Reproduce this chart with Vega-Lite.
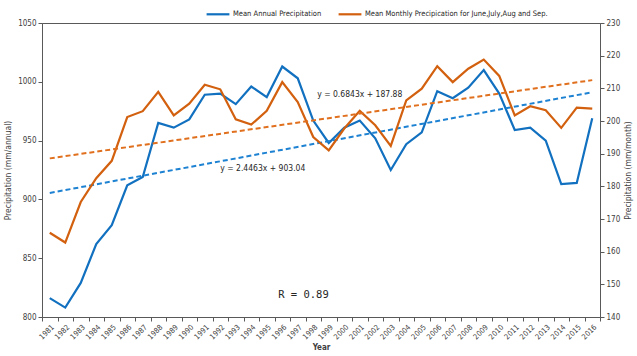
{
  "$schema": "https://vega.github.io/schema/vega-lite/v6.json",
  "autosize": "none",
  "width": 558,
  "height": 294,
  "padding": {"left": 42, "top": 23, "right": 37, "bottom": 39},
  "background": "white",
  "config": {
    "font": "DejaVu Sans Condensed",
    "view": {"stroke": "#595959", "strokeWidth": 1},
    "axis": {"labelFont": "DejaVu Sans Condensed", "titleFont": "DejaVu Sans Condensed", "labelColor": "#404040", "titleColor": "#404040", "domainColor": "#595959", "tickColor": "#595959", "labelFontSize": 8, "titleFontSize": 8.5, "titleFontWeight": "normal", "grid": false, "tickSize": 4, "labelPadding": 2, "labelOverlap": false}
  },
  "datasets": {
    "series": [
      {"year": 1981, "series": "Mean Annual Precipitation", "value": 816},
      {"year": 1982, "series": "Mean Annual Precipitation", "value": 808},
      {"year": 1983, "series": "Mean Annual Precipitation", "value": 829},
      {"year": 1984, "series": "Mean Annual Precipitation", "value": 862},
      {"year": 1985, "series": "Mean Annual Precipitation", "value": 878},
      {"year": 1986, "series": "Mean Annual Precipitation", "value": 912},
      {"year": 1987, "series": "Mean Annual Precipitation", "value": 919},
      {"year": 1988, "series": "Mean Annual Precipitation", "value": 965},
      {"year": 1989, "series": "Mean Annual Precipitation", "value": 961},
      {"year": 1990, "series": "Mean Annual Precipitation", "value": 968},
      {"year": 1991, "series": "Mean Annual Precipitation", "value": 989},
      {"year": 1992, "series": "Mean Annual Precipitation", "value": 990},
      {"year": 1993, "series": "Mean Annual Precipitation", "value": 981},
      {"year": 1994, "series": "Mean Annual Precipitation", "value": 996},
      {"year": 1995, "series": "Mean Annual Precipitation", "value": 987},
      {"year": 1996, "series": "Mean Annual Precipitation", "value": 1013},
      {"year": 1997, "series": "Mean Annual Precipitation", "value": 1003},
      {"year": 1998, "series": "Mean Annual Precipitation", "value": 967},
      {"year": 1999, "series": "Mean Annual Precipitation", "value": 948},
      {"year": 2000, "series": "Mean Annual Precipitation", "value": 961},
      {"year": 2001, "series": "Mean Annual Precipitation", "value": 967},
      {"year": 2002, "series": "Mean Annual Precipitation", "value": 952},
      {"year": 2003, "series": "Mean Annual Precipitation", "value": 925},
      {"year": 2004, "series": "Mean Annual Precipitation", "value": 947},
      {"year": 2005, "series": "Mean Annual Precipitation", "value": 957},
      {"year": 2006, "series": "Mean Annual Precipitation", "value": 992},
      {"year": 2007, "series": "Mean Annual Precipitation", "value": 986},
      {"year": 2008, "series": "Mean Annual Precipitation", "value": 995},
      {"year": 2009, "series": "Mean Annual Precipitation", "value": 1010},
      {"year": 2010, "series": "Mean Annual Precipitation", "value": 990},
      {"year": 2011, "series": "Mean Annual Precipitation", "value": 959},
      {"year": 2012, "series": "Mean Annual Precipitation", "value": 961},
      {"year": 2013, "series": "Mean Annual Precipitation", "value": 950},
      {"year": 2014, "series": "Mean Annual Precipitation", "value": 913},
      {"year": 2015, "series": "Mean Annual Precipitation", "value": 914},
      {"year": 2016, "series": "Mean Annual Precipitation", "value": 969},
      {"year": 1981, "series": "Mean Monthly Precipication for June,July,Aug and Sep.", "value": 165.8},
      {"year": 1982, "series": "Mean Monthly Precipication for June,July,Aug and Sep.", "value": 162.8},
      {"year": 1983, "series": "Mean Monthly Precipication for June,July,Aug and Sep.", "value": 175.2},
      {"year": 1984, "series": "Mean Monthly Precipication for June,July,Aug and Sep.", "value": 182.5},
      {"year": 1985, "series": "Mean Monthly Precipication for June,July,Aug and Sep.", "value": 187.8},
      {"year": 1986, "series": "Mean Monthly Precipication for June,July,Aug and Sep.", "value": 201.2},
      {"year": 1987, "series": "Mean Monthly Precipication for June,July,Aug and Sep.", "value": 203.0},
      {"year": 1988, "series": "Mean Monthly Precipication for June,July,Aug and Sep.", "value": 208.9},
      {"year": 1989, "series": "Mean Monthly Precipication for June,July,Aug and Sep.", "value": 201.7},
      {"year": 1990, "series": "Mean Monthly Precipication for June,July,Aug and Sep.", "value": 205.3},
      {"year": 1991, "series": "Mean Monthly Precipication for June,July,Aug and Sep.", "value": 211.1},
      {"year": 1992, "series": "Mean Monthly Precipication for June,July,Aug and Sep.", "value": 209.7},
      {"year": 1993, "series": "Mean Monthly Precipication for June,July,Aug and Sep.", "value": 200.5},
      {"year": 1994, "series": "Mean Monthly Precipication for June,July,Aug and Sep.", "value": 198.9},
      {"year": 1995, "series": "Mean Monthly Precipication for June,July,Aug and Sep.", "value": 203.1},
      {"year": 1996, "series": "Mean Monthly Precipication for June,July,Aug and Sep.", "value": 211.9},
      {"year": 1997, "series": "Mean Monthly Precipication for June,July,Aug and Sep.", "value": 205.8},
      {"year": 1998, "series": "Mean Monthly Precipication for June,July,Aug and Sep.", "value": 195.1},
      {"year": 1999, "series": "Mean Monthly Precipication for June,July,Aug and Sep.", "value": 191.0},
      {"year": 2000, "series": "Mean Monthly Precipication for June,July,Aug and Sep.", "value": 197.7},
      {"year": 2001, "series": "Mean Monthly Precipication for June,July,Aug and Sep.", "value": 203.1},
      {"year": 2002, "series": "Mean Monthly Precipication for June,July,Aug and Sep.", "value": 198.7},
      {"year": 2003, "series": "Mean Monthly Precipication for June,July,Aug and Sep.", "value": 192.4},
      {"year": 2004, "series": "Mean Monthly Precipication for June,July,Aug and Sep.", "value": 206.3},
      {"year": 2005, "series": "Mean Monthly Precipication for June,July,Aug and Sep.", "value": 209.9},
      {"year": 2006, "series": "Mean Monthly Precipication for June,July,Aug and Sep.", "value": 216.8},
      {"year": 2007, "series": "Mean Monthly Precipication for June,July,Aug and Sep.", "value": 211.9},
      {"year": 2008, "series": "Mean Monthly Precipication for June,July,Aug and Sep.", "value": 216.0},
      {"year": 2009, "series": "Mean Monthly Precipication for June,July,Aug and Sep.", "value": 218.8},
      {"year": 2010, "series": "Mean Monthly Precipication for June,July,Aug and Sep.", "value": 213.8},
      {"year": 2011, "series": "Mean Monthly Precipication for June,July,Aug and Sep.", "value": 201.7},
      {"year": 2012, "series": "Mean Monthly Precipication for June,July,Aug and Sep.", "value": 204.5},
      {"year": 2013, "series": "Mean Monthly Precipication for June,July,Aug and Sep.", "value": 203.3},
      {"year": 2014, "series": "Mean Monthly Precipication for June,July,Aug and Sep.", "value": 197.9},
      {"year": 2015, "series": "Mean Monthly Precipication for June,July,Aug and Sep.", "value": 204.1},
      {"year": 2016, "series": "Mean Monthly Precipication for June,July,Aug and Sep.", "value": 203.8}
    ],
    "trend": [
      {"year": 1981, "series": "annual", "value": 905.49},
      {"year": 2016, "series": "annual", "value": 991.11},
      {"year": 1981, "series": "monthly", "value": 188.56},
      {"year": 2016, "series": "monthly", "value": 212.51}
    ],
    "notes": [
      {"year": 2001, "value": 990, "label": "y = 0.6843x + 187.88", "kind": "eq1"},
      {"year": 1992, "value": 927, "label": "y = 2.4463x + 903.04", "kind": "eq2"},
      {"year": 1999, "value": 819, "label": "R = 0.89", "kind": "r"}
    ]
  },
  "encoding": {
    "x": {
      "field": "year", "type": "ordinal",
      "scale": {"type": "band", "paddingInner": 0, "paddingOuter": 0,
        "domain": [1981,1982,1983,1984,1985,1986,1987,1988,1989,1990,1991,1992,1993,1994,1995,1996,1997,1998,1999,2000,2001,2002,2003,2004,2005,2006,2007,2008,2009,2010,2011,2012,2013,2014,2015,2016]},
      "axis": {"title": "Year", "labelAngle": -45, "labelFontSize": 7.5, "tickBand": "extent", "titlePadding": 3, "titleFontWeight": "bold", "titleFontSize": 8}
    }
  },
  "layer": [
    {
      "layer": [
        {
          "data": {"name": "series"},
          "transform": [{"filter": "datum.series === 'Mean Annual Precipitation'"}],
          "mark": {"type": "line", "strokeWidth": 2.2},
          "encoding": {
            "y": {"field": "value", "type": "quantitative", "scale": {"domain": [800, 1050], "nice": false, "zero": false},
              "axis": {"title": "Precipitation (mm/annual)", "values": [800, 850, 900, 950, 1000, 1050], "format": "d", "titlePadding": 5}},
            "color": {"field": "series", "type": "nominal",
              "scale": {"domain": ["Mean Annual Precipitation", "Mean Monthly Precipication for June,July,Aug and Sep."], "range": ["#1170BF", "#D2600E"]},
              "legend": {"orient": "none", "legendX": 163, "legendY": -22, "direction": "horizontal", "title": null, "symbolType": "stroke", "symbolSize": 520, "symbolStrokeWidth": 2.2, "labelFontSize": 7.5, "labelColor": "#262626", "labelFont": "DejaVu Sans Condensed", "labelLimit": 400, "columnPadding": 12, "labelOffset": 2}}
          }
        },
        {
          "data": {"name": "trend"},
          "transform": [{"filter": "datum.series === 'annual'"}],
          "mark": {"type": "line", "strokeWidth": 2, "strokeDash": [5, 3], "color": "#1E82D2"},
          "encoding": {"y": {"field": "value", "type": "quantitative"}}
        },
        {
          "data": {"name": "notes"},
          "transform": [{"filter": "datum.kind === 'eq1'"}],
          "mark": {"type": "text", "fontSize": 8.5, "color": "#262626", "font": "DejaVu Sans Condensed", "align": "center"},
          "encoding": {"y": {"field": "value", "type": "quantitative"}, "text": {"field": "label"}}
        },
        {
          "data": {"name": "notes"},
          "transform": [{"filter": "datum.kind === 'eq2'"}],
          "mark": {"type": "text", "fontSize": 8.5, "color": "#262626", "font": "DejaVu Sans Condensed", "align": "left"},
          "encoding": {"y": {"field": "value", "type": "quantitative"}, "text": {"field": "label"}}
        },
        {
          "data": {"name": "notes"},
          "transform": [{"filter": "datum.kind === 'r'"}],
          "mark": {"type": "text", "fontSize": 10.5, "color": "#262626", "font": "DejaVu Sans Mono", "align": "right"},
          "encoding": {"y": {"field": "value", "type": "quantitative"}, "text": {"field": "label"}}
        }
      ]
    },
    {
      "layer": [
        {
          "data": {"name": "series"},
          "transform": [{"filter": "datum.series !== 'Mean Annual Precipitation'"}],
          "mark": {"type": "line", "strokeWidth": 2.2},
          "encoding": {
            "y": {"field": "value", "type": "quantitative", "scale": {"domain": [140, 230], "nice": false, "zero": false},
              "axis": {"orient": "right", "title": "Precipitation (mm/month)", "titleAngle": 270, "titleBaseline": "top", "values": [140,150,160,170,180,190,200,210,220,230], "format": "d", "titlePadding": 4}},
            "color": {"field": "series", "type": "nominal"}
          }
        },
        {
          "data": {"name": "trend"},
          "transform": [{"filter": "datum.series === 'monthly'"}],
          "mark": {"type": "line", "strokeWidth": 2, "strokeDash": [5, 3], "color": "#E0701E"},
          "encoding": {"y": {"field": "value", "type": "quantitative", "axis": {"orient": "right", "title": "Precipitation (mm/month)", "titleAngle": 270, "titleBaseline": "top", "values": [140,150,160,170,180,190,200,210,220,230], "format": "d", "titlePadding": 4}}}
        }
      ]
    }
  ],
  "resolve": {"scale": {"y": "independent"}}
}
